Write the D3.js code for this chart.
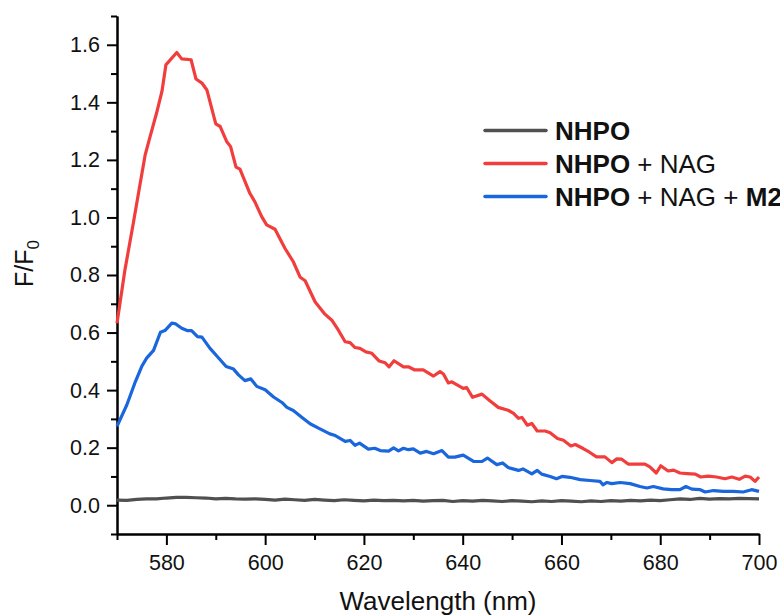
<!DOCTYPE html>
<html>
<head>
<meta charset="utf-8">
<script src="https://cdn.jsdelivr.net/npm/d3@7"></script>
<style>
  body { margin: 0; background: #fff; }
  svg { display: block; font-family: "Liberation Sans", Arial, sans-serif; }
  .axis path, .axis line { stroke: #000; stroke-width: 2; }
  .axis text { font-size: 21.5px; fill: #111; }
</style>
</head>
<body>
<div id="chart"></div>
<script>
// --- data ---
let redWl = [570.0,571.6,573.3,574.7,575.7,576.7,578.0,579.1,579.9,582.1,583.1,585.0,586.0,587.2,588.2,590.0,590.9,592.2,593.0,594.1,594.9,596.9,597.9,599.3,600.3,602.0,604.0,605.7,607.1,608.1,610.1,612.1,613.5,614.8,616.2,617.2,618.2,619.2,620.4,621.6,623.1,624.3,625.1,626.1,628.0,629.0,630.3,632.0,634.1,635.4,636.1,637.1,637.8,640.1,640.8,642.0,643.9,645.5,647.2,649.2,650.3,651.3,652.0,653.1,654.0,655.1,656.7,657.7,659.2,660.4,661.9,662.8,664.4,665.6,667.1,668.8,670.2,671.2,672.2,673.5,675.2,676.9,677.9,679.2,680.1,681.6,682.7,684.0,685.4,687.1,688.2,689.7,691.4,693.1,694.5,696.0,697.2,698.2,699.2,700.0];
let redVal = [0.632,0.817,0.98,1.119,1.217,1.281,1.362,1.438,1.530,1.573,1.551,1.548,1.481,1.467,1.443,1.325,1.316,1.264,1.246,1.175,1.168,1.084,1.055,1.003,0.974,0.959,0.893,0.846,0.792,0.780,0.707,0.664,0.643,0.609,0.568,0.565,0.548,0.545,0.533,0.528,0.501,0.495,0.481,0.502,0.481,0.481,0.470,0.470,0.449,0.464,0.456,0.425,0.429,0.406,0.409,0.375,0.386,0.363,0.340,0.330,0.319,0.302,0.305,0.278,0.284,0.258,0.258,0.252,0.232,0.226,0.206,0.211,0.197,0.185,0.168,0.168,0.148,0.161,0.160,0.143,0.143,0.143,0.133,0.112,0.137,0.119,0.122,0.112,0.110,0.108,0.098,0.101,0.098,0.092,0.098,0.090,0.101,0.098,0.083,0.098];

let blueWl = [570.0,572.0,573.6,575.0,576.0,577.4,578.8,579.7,581.1,581.9,583.1,584.2,585.1,586.3,587.2,588.8,590.3,592.1,593.6,594.6,595.9,597.1,598.3,600.0,601.7,603.4,604.4,605.7,607.4,609.1,610.8,613.1,614.2,616.2,617.2,618.2,619.1,620.9,622.2,623.3,625.0,626.0,627.0,628.0,629.0,630.0,631.4,632.7,634.1,635.8,637.1,638.4,640.1,642.2,643.9,645.0,646.9,648.1,649.2,651.3,652.2,654.0,655.1,656.0,657.7,659.0,660.1,661.7,663.8,665.8,667.8,668.4,669.2,670.2,671.9,673.9,675.9,677.3,678.6,680.6,682.3,684.0,685.2,686.4,688.1,689.1,690.8,692.8,694.8,696.8,698.5,700.0];
let blueVal = [0.274,0.349,0.424,0.482,0.511,0.538,0.601,0.607,0.633,0.630,0.615,0.607,0.607,0.586,0.584,0.546,0.517,0.482,0.473,0.453,0.433,0.439,0.413,0.401,0.376,0.357,0.340,0.329,0.306,0.283,0.268,0.248,0.242,0.222,0.225,0.208,0.216,0.195,0.198,0.190,0.188,0.199,0.189,0.198,0.193,0.196,0.181,0.187,0.179,0.190,0.167,0.167,0.174,0.152,0.152,0.164,0.141,0.147,0.131,0.121,0.126,0.109,0.121,0.108,0.100,0.092,0.100,0.097,0.089,0.086,0.083,0.071,0.079,0.075,0.079,0.075,0.065,0.060,0.065,0.057,0.054,0.054,0.065,0.056,0.054,0.046,0.051,0.048,0.048,0.046,0.054,0.048];

let grayWl = d3.range(570, 701, 2);
let grayVal = [0.018,0.017,0.020,0.022,0.022,0.025,0.027,0.027,0.026,0.025,0.022,0.024,0.022,0.021,0.022,0.020,0.018,0.021,0.019,0.017,0.020,0.018,0.016,0.019,0.017,0.015,0.018,0.016,0.017,0.015,0.017,0.014,0.016,0.017,0.013,0.016,0.014,0.017,0.015,0.013,0.016,0.014,0.012,0.015,0.013,0.016,0.014,0.012,0.015,0.013,0.016,0.014,0.017,0.015,0.018,0.016,0.019,0.022,0.020,0.024,0.021,0.023,0.022,0.024,0.023,0.022];

let xMajor = [580, 600, 620, 640, 660, 680, 700];
let xMinor = [570, 590, 610, 630, 650, 670, 690];
let yMajor = [0, 0.2, 0.4, 0.6, 0.8, 1.0, 1.2, 1.4, 1.6];
let yMinor = [-0.1, 0.1, 0.3, 0.5, 0.7, 0.9, 1.1, 1.3, 1.5, 1.7];

let series = [
    {name: "gray", wl: grayWl, val: grayVal, color: "#505050"},
    {name: "red", wl: redWl, val: redVal, color: "#f23d3d"},
    {name: "blue", wl: blueWl, val: blueVal, color: "#1a66dc"}
];

// --- chart ---
let W = 780, H = 615;
let margin = {top: 16, right: 21, bottom: 81, left: 117};

let svg = d3.select("#chart").append("svg")
    .attr("width", W)
    .attr("height", H);

let x = d3.scaleLinear().domain([570, 700]).range([margin.left, W - margin.right]);
let y = d3.scaleLinear().domain([-0.1, 1.7]).range([H - margin.bottom, margin.top]);

// minor ticks first, then major axes with labels
svg.append("g")
    .attr("class", "axis")
    .attr("transform", "translate(0," + (H - margin.bottom) + ")")
    .call(d3.axisBottom(x).tickValues(xMinor).tickSize(6).tickSizeOuter(0).tickFormat(""));
svg.append("g")
    .attr("class", "axis")
    .attr("transform", "translate(0," + (H - margin.bottom) + ")")
    .call(d3.axisBottom(x).tickValues(xMajor).tickSize(11).tickSizeOuter(0).tickPadding(10).tickFormat(d3.format("d")));

svg.append("g")
    .attr("class", "axis")
    .attr("transform", "translate(" + margin.left + ",0)")
    .call(d3.axisLeft(y).tickValues(yMinor).tickSize(6).tickSizeOuter(0).tickFormat(""));
svg.append("g")
    .attr("class", "axis")
    .attr("transform", "translate(" + margin.left + ",0)")
    .call(d3.axisLeft(y).tickValues(yMajor).tickSize(10).tickSizeOuter(0).tickPadding(7).tickFormat(d3.format(".1f")));

// curves
let line = d3.line()
    .x(d => x(d[0]))
    .y(d => y(d[1]));

svg.selectAll("path.curve")
    .data(series)
    .enter()
    .append("path")
    .attr("class", "curve")
    .attr("fill", "none")
    .attr("stroke", d => d.color)
    .attr("stroke-width", 3.2)
    .attr("stroke-linejoin", "round")
    .attr("d", d => line(d3.zip(d.wl, d.val)));

// axis titles
svg.append("text")
    .attr("x", (margin.left + W - margin.right) / 2)
    .attr("y", 610)
    .attr("text-anchor", "middle")
    .style("font-size", "26px")
    .style("fill", "#111")
    .text("Wavelength (nm)");

let yTitle = svg.append("text")
    .attr("transform", "translate(33,287) rotate(-90)")
    .style("font-size", "25px")
    .style("fill", "#111");
yTitle.append("tspan").text("F/F");
yTitle.append("tspan").attr("dy", 6).style("font-size", "17px").text("0");

// legend
let legendRows = [
    {color: "#505050", parts: [["NHPO", true]]},
    {color: "#f23d3d", parts: [["NHPO", true], [" + NAG", false]]},
    {color: "#1a66dc", parts: [["NHPO", true], [" + NAG + ", false], ["M2", true]]}
];

let legend = svg.append("g");
legendRows.forEach((row, i) => {
    let ly = 130.5 + i * 33;
    legend.append("line")
        .attr("x1", 485).attr("x2", 546)
        .attr("y1", ly).attr("y2", ly)
        .attr("stroke", row.color)
        .attr("stroke-width", 3.5)
        .attr("stroke-linecap", "round");
    let t = legend.append("text")
        .attr("x", 555)
        .attr("y", ly + 9)
        .style("font-size", "26px")
        .style("fill", "#111")
        .attr("xml:space", "preserve");
    row.parts.forEach(p => {
        t.append("tspan")
            .style("font-weight", p[1] ? "bold" : "normal")
            .text(p[0]);
    });
});
</script>
</body>
</html>
